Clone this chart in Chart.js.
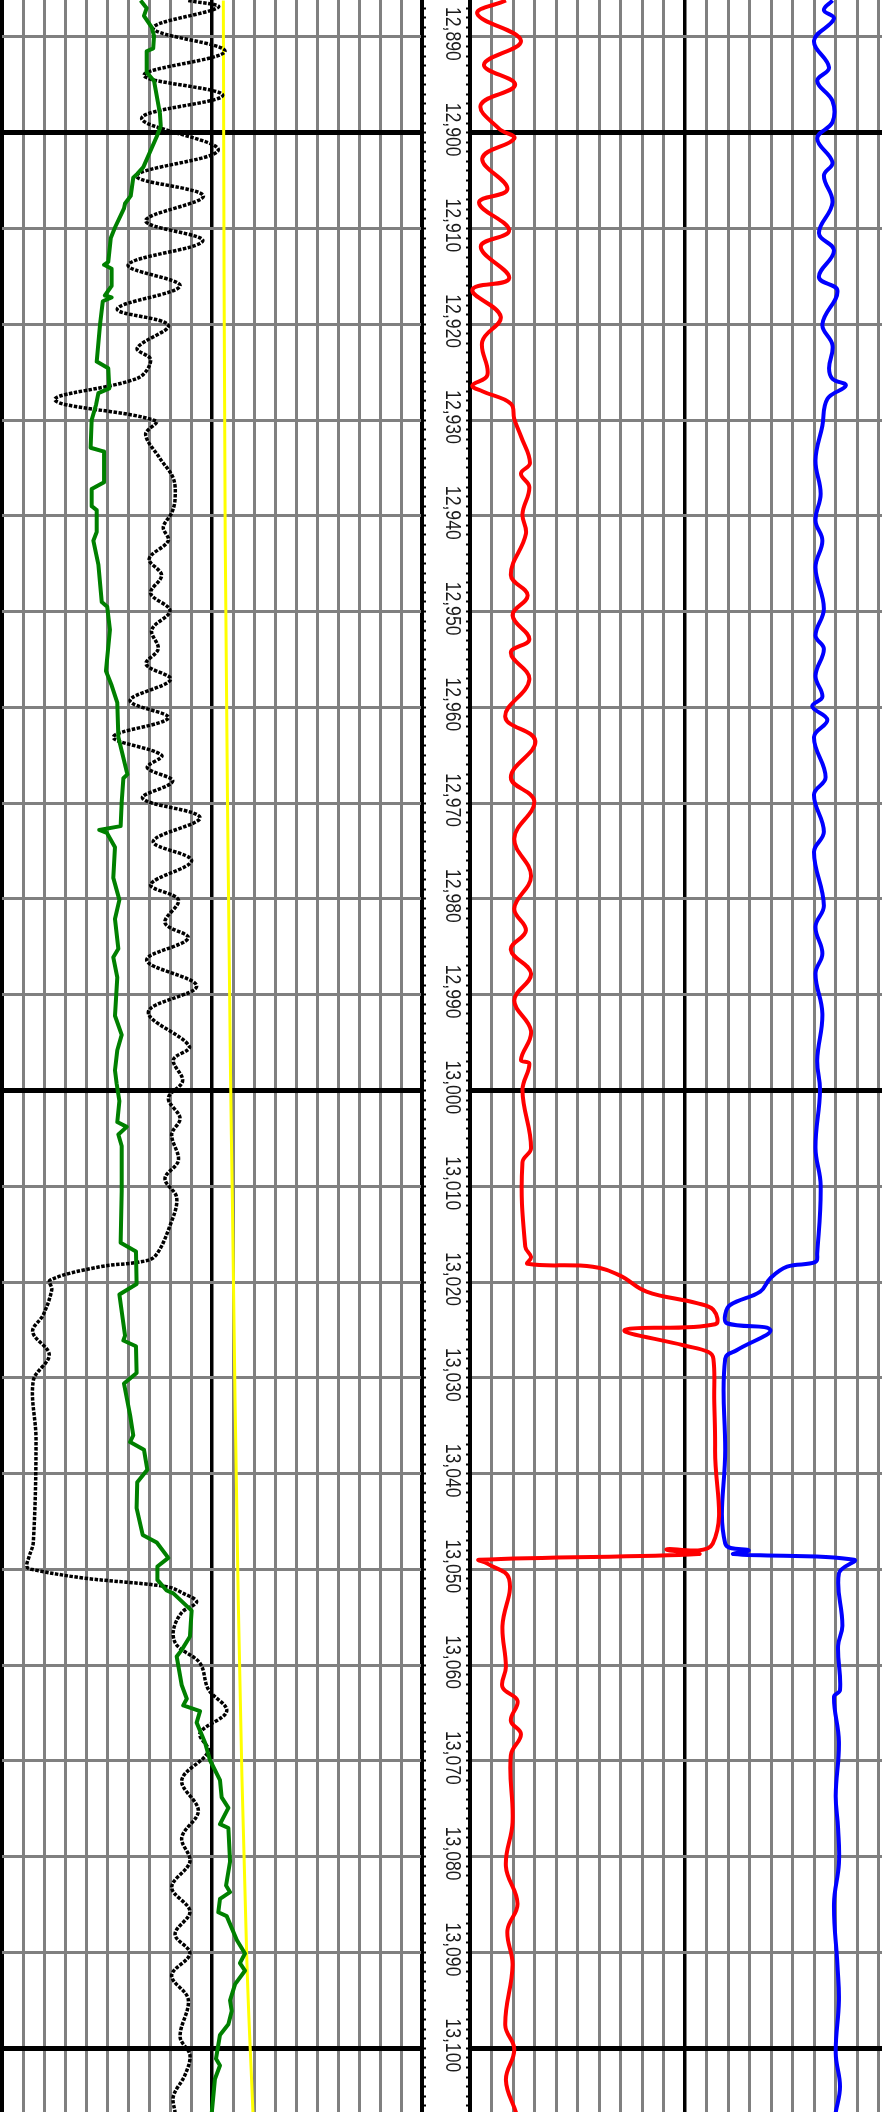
<!DOCTYPE html>
<html>
<head>
<meta charset="utf-8">
<title>Log tracks</title>
<script src="https://cdn.jsdelivr.net/npm/chart.js@4.4.1/dist/chart.umd.min.js"></script>
<style>
  html, body { margin: 0; padding: 0; background: #fff; overflow: hidden; }
  #wrap { position: relative; width: 882px; height: 2112px; overflow: hidden; background: #fff; }
  canvas { position: absolute; top: 0; }
  #leftTrack { left: 0; }
  #rightTrack { left: 466px; }
</style>
</head>
<body>
<div id="wrap">
  <canvas id="leftTrack" width="470" height="2112"></canvas>
  <canvas id="rightTrack" width="434" height="2112"></canvas>
</div>
<script>

// depth window (ft) and the labelled depths
var topDepth = 12886.15;
var bottomDepth = 13106.65;
var depthLabels = [12890, 12900, 12910, 12920, 12930, 12940, 12950, 12960, 12970, 12980, 12990,
    13000, 13010, 13020, 13030, 13040, 13050, 13060, 13070, 13080, 13090, 13100];

// left track, scale 0-200 : [depth, value]
var spLog = [[12886.2,66.0],[12887.0,68.9],[12887.8,67.6],[12889.0,71.3],[12889.9,72.4],[12891.2,72.0],[12891.5,68.9],[12893.7,68.9],[12894.6,72.4],[12898.0,75.2],[12899.3,75.6],[12900.4,73.7],[12901.6,71.3],[12903.6,67.3],[12904.3,64.4],[12904.7,62.5],[12906.6,61.3],[12907.4,58.6],[12907.9,58.1],[12909.9,53.8],[12911.0,51.8],[12913.5,50.6],[12913.8,48.6],[12914.2,52.2],[12916.0,52.2],[12917.0,49.0],[12917.2,52.2],[12917.6,48.0],[12920.0,46.7],[12923.9,45.1],[12924.6,50.6],[12926.7,51.1],[12927.2,45.9],[12928.4,44.8],[12930.0,42.7],[12932.9,42.2],[12933.3,48.6],[12936.5,48.6],[12937.2,42.7],[12939.0,42.7],[12939.4,45.1],[12941.7,45.1],[12942.6,43.5],[12945.1,45.9],[12949.0,47.5],[12949.5,50.1],[12951.9,51.4],[12956.2,49.5],[12957.7,52.2],[12959.5,54.9],[12963.1,55.4],[12967.0,59.7],[12967.4,57.8],[12969.9,57.0],[12972.4,56.5],[12972.8,46.3],[12973.1,49.9],[12974.6,53.8],[12977.8,53.0],[12980.1,55.9],[12982.1,53.8],[12985.2,55.4],[12986.1,53.0],[12988.2,54.9],[12992.2,53.8],[12994.2,57.0],[12995.8,54.9],[12997.9,53.8],[12999.3,54.6],[13001.1,55.9],[13003.3,54.9],[13003.8,59.4],[13004.6,55.4],[13005.8,57.0],[13010.5,57.0],[13015.9,56.5],[13016.8,63.8],[13020.2,64.1],[13021.3,55.9],[13025.6,58.6],[13026.1,57.8],[13026.7,63.8],[13029.5,64.1],[13030.6,58.1],[13033.9,61.0],[13036.0,62.5],[13036.7,61.0],[13037.5,67.6],[13039.6,69.2],[13040.9,64.4],[13043.6,64.1],[13046.4,67.0],[13047.2,73.7],[13048.8,79.2],[13049.7,74.0],[13051.1,74.0],[13052.2,78.4],[13052.5,81.6],[13054.3,90.3],[13057.0,89.5],[13058.4,85.6],[13059.1,83.2],[13062.1,85.6],[13063.5,88.0],[13064.2,86.3],[13064.8,94.3],[13066.0,92.7],[13068.1,96.7],[13069.9,99.0],[13072.0,103.8],[13073.8,104.6],[13074.9,107.8],[13076.6,103.8],[13077.0,107.8],[13080.5,108.6],[13083.0,106.7],[13083.7,108.6],[13084.4,103.8],[13085.8,103.0],[13086.2,107.0],[13088.7,111.8],[13090.1,115.7],[13091.1,113.3],[13091.9,115.7],[13093.3,111.0],[13095.0,108.6],[13096.1,109.4],[13097.5,107.8],[13098.6,103.8],[13101.1,101.9],[13101.8,103.8],[13103.2,101.4],[13106.7,99.9]];

var grLog = [[12886.2,88.7],[12886.9,103.0],[12889.1,72.0],[12891.5,106.2],[12894.0,67.6],[12896.1,105.1],[12898.5,66.5],[12901.8,103.0],[12904.5,64.1],[12906.6,95.9],[12909.2,68.4],[12911.3,95.6],[12913.8,60.1],[12916.0,84.8],[12918.4,54.9],[12920.1,79.2],[12922.5,64.4],[12923.7,70.8],[12925.6,64.9],[12927.9,25.2],[12930.1,73.3],[12931.5,68.4],[12934.0,75.2],[12936.1,81.6],[12938.3,82.4],[12939.7,80.8],[12941.2,76.8],[12942.6,79.2],[12944.5,70.1],[12946.2,76.0],[12948.1,70.8],[12949.9,80.0],[12951.9,71.3],[12953.9,74.4],[12955.5,68.6],[12957.1,80.3],[12959.3,61.0],[12961.1,79.2],[12963.1,53.0],[12965.0,76.0],[12966.3,69.2],[12967.7,81.3],[12969.5,67.0],[12971.5,94.3],[12974.0,72.0],[12976.0,90.3],[12978.5,70.8],[12980.1,84.0],[12982.5,77.6],[12984.1,88.7],[12986.4,68.9],[12989.1,92.7],[12991.8,69.7],[12995.4,89.2],[12996.8,81.6],[12999.0,86.0],[13000.8,79.2],[13002.9,84.8],[13004.6,80.8],[13007.3,84.0],[13009.2,77.6],[13011.2,83.2],[13014.1,80.0],[13017.3,72.9],[13017.9,65.7],[13018.4,46.7],[13019.8,22.9],[13020.8,23.7],[13023.4,19.7],[13025.2,14.6],[13027.6,22.5],[13030.3,14.9],[13036.4,16.2],[13047.2,14.9],[13048.6,13.0],[13049.7,11.8],[13050.0,14.1],[13050.9,38.7],[13051.8,78.4],[13052.5,86.3],[13053.4,92.7],[13054.5,85.6],[13056.4,81.6],[13057.9,83.2],[13059.8,94.3],[13062.5,98.2],[13064.8,107.0],[13067.1,94.3],[13069.0,98.2],[13072.0,85.6],[13075.2,93.5],[13078.0,85.6],[13080.5,89.5],[13083.2,80.8],[13085.7,89.5],[13088.1,82.4],[13090.1,89.5],[13092.4,80.8],[13094.9,88.7],[13098.8,84.8],[13100.7,89.5],[13102.8,87.1],[13105.0,81.6],[13106.7,82.4]];

var bsLog = [[12886.2,105.4],[12942.5,106.3],[12997.9,108.8],[13011.4,109.7],[13053.2,112.5],[13090.1,116.5],[13106.7,119.5]];

// right track, scale 0-200 : [depth, value]
var denLog = [[12886.2,16.7],[12887.6,3.4],[12890.4,23.7],[12892.9,6.5],[12895.0,21.0],[12897.1,5.0],[12899.6,13.6],[12900.6,20.6],[12902.7,5.7],[12905.9,17.4],[12907.3,4.2],[12910.2,18.2],[12911.9,5.0],[12915.2,18.2],[12916.4,1.1],[12919.2,14.3],[12921.8,5.7],[12925.3,8.1],[12926.4,1.1],[12927.0,5.7],[12928.3,19.0],[12929.9,20.6],[12931.7,23.7],[12934.5,27.9],[12935.6,23.7],[12937.0,27.6],[12939.8,24.4],[12941.9,26.0],[12946.2,19.0],[12948.3,26.8],[12950.4,19.8],[12952.9,27.6],[12954.3,19.0],[12957.1,27.6],[12961.0,16.4],[12963.5,30.4],[12967.3,19.0],[12969.8,29.9],[12973.7,20.6],[12977.6,28.4],[12981.0,20.6],[12983.3,26.0],[12985.3,19.0],[12987.8,28.4],[12990.6,20.6],[12993.8,28.4],[12996.8,23.7],[12997.2,27.6],[13000.0,24.4],[13006.0,28.4],[13007.5,24.4],[13016.3,25.7],[13017.4,28.4],[13018.1,26.8],[13018.4,57.1],[13019.3,69.6],[13021.0,82.1],[13022.2,105.5],[13022.9,113.2],[13024.4,114.0],[13025.0,72.0],[13026.6,99.2],[13027.3,110.9],[13028.0,113.2],[13032.3,113.6],[13037.5,114.0],[13047.3,112.9],[13047.9,91.4],[13048.4,106.2],[13049.0,4.2],[13049.4,8.1],[13051.0,18.2],[13055.9,15.1],[13060.2,16.7],[13062.3,15.1],[13063.7,22.1],[13065.8,19.0],[13067.2,23.7],[13069.4,19.0],[13076.4,19.8],[13081.0,16.7],[13084.9,22.1],[13087.7,17.4],[13091.3,19.8],[13097.6,16.4],[13100.1,20.6],[13103.3,16.7],[13106.7,21.4]];

var neuLog = [[12886.2,168.6],[12887.2,164.6],[12888.1,169.3],[12890.4,160.0],[12893.2,167.0],[12894.6,161.5],[12896.7,168.6],[12898.9,168.6],[12900.6,161.5],[12903.1,168.6],[12904.5,164.6],[12907.3,168.6],[12910.5,162.3],[12912.3,169.3],[12915.1,162.3],[12916.5,170.9],[12920.0,163.9],[12922.2,168.6],[12924.6,167.0],[12925.7,168.6],[12926.4,174.8],[12927.8,166.2],[12930.6,163.9],[12934.2,160.7],[12937.7,163.1],[12940.5,160.7],[12942.6,163.9],[12945.4,160.7],[12949.7,164.6],[12952.5,160.7],[12953.9,164.6],[12956.7,160.7],[12958.9,163.9],[12959.9,159.2],[12961.3,166.2],[12963.1,160.0],[12967.3,165.4],[12969.1,160.0],[12973.0,164.6],[12975.1,160.0],[12980.7,164.6],[12982.9,160.7],[12985.7,163.9],[12987.8,160.7],[12992.0,163.9],[12996.8,161.5],[13000.0,162.8],[13006.0,160.7],[13009.9,163.1],[13017.0,161.5],[13017.9,160.7],[13018.4,147.5],[13019.6,139.7],[13021.0,135.0],[13022.4,121.0],[13023.4,118.7],[13024.3,119.5],[13025.0,139.7],[13027.1,124.2],[13028.0,118.7],[13037.5,118.7],[13047.3,118.7],[13048.0,129.6],[13048.4,122.6],[13049.0,178.6],[13050.4,171.6],[13055.9,173.2],[13058.0,171.2],[13062.6,172.1],[13063.3,169.3],[13068.0,171.6],[13073.6,170.1],[13077.0,171.2],[13080.7,171.6],[13084.9,169.3],[13091.3,170.9],[13095.0,171.6],[13100.5,170.1],[13104.0,172.1],[13106.7,170.1]];

var GRAY = '#808080';

function toPoints(log) {
    return log.map(p => ({ x: p[1], y: p[0] }));
}

function isHundred(v) {
    return Math.abs(v % 100) < 0.001;
}

function valueAxis() {
    return {
        type: 'linear',
        position: 'bottom',
        min: 0,
        max: 200,
        ticks: { display: false, stepSize: 10, includeBounds: false },
        grid: {
            drawTicks: false,
            color: c => isHundred(c.tick.value) ? '#000' : GRAY,
            lineWidth: c => c.tick.value === 100 ? 3.5 : (isHundred(c.tick.value) ? 4 : 3)
        },
        border: { display: false }
    };
}

function depthGridAxis(position) {
    return {
        type: 'linear',
        position: position,
        reverse: true,
        min: topDepth,
        max: bottomDepth,
        ticks: { display: false, stepSize: 10, includeBounds: false },
        grid: {
            drawTicks: false,
            color: c => isHundred(c.tick.value) ? '#000' : GRAY,
            lineWidth: c => isHundred(c.tick.value) ? 5 : 3
        },
        border: { display: false }
    };
}

function depthTickAxis(position) {
    return {
        type: 'linear',
        position: position,
        reverse: true,
        min: topDepth,
        max: bottomDepth,
        ticks: { display: false, stepSize: 1, includeBounds: false },
        grid: { drawOnChartArea: false, drawTicks: true, tickLength: 4, tickColor: '#000', tickWidth: 2 },
        border: { display: true, color: '#000', width: 3 }
    };
}

function curve(log, color, width, dash, tension) {
    return {
        data: toPoints(log),
        showLine: true,
        borderColor: color,
        borderWidth: width,
        borderDash: dash,
        borderJoinStyle: dash.length ? 'miter' : 'round',
        pointRadius: 0,
        tension: tension,
        fill: false
    };
}

var depthLabelPlugin = {
    id: 'depthLabels',
    afterDraw: function (chart) {
        var ctx = chart.ctx;
        var scale = chart.scales.y;
        var cx = chart.chartArea.right + 30;
        ctx.save();
        ctx.fillStyle = '#1a1a1a';
        ctx.font = '22px "Liberation Sans", Arial, sans-serif';
        ctx.textAlign = 'center';
        ctx.textBaseline = 'middle';
        depthLabels.forEach(function (d) {
            ctx.save();
            ctx.translate(cx, scale.getPixelForValue(d) - 3);
            ctx.rotate(Math.PI / 2);
            ctx.scale(0.8, 1);
            ctx.fillText(d.toLocaleString('en-US'), 0, 0);
            ctx.restore();
        });
        ctx.restore();
    }
};

function baseOptions(padding, scales) {
    return {
        responsive: false,
        animation: false,
        devicePixelRatio: 1,
        events: [],
        layout: { padding: padding },
        plugins: { legend: { display: false }, tooltip: { enabled: false } },
        scales: scales
    };
}

function createLeftTrack() {
    return new Chart(document.getElementById('leftTrack'), {
        type: 'scatter',
        data: {
            datasets: [
                curve(spLog, '#008000', 4, [], 0),
                curve(grLog, '#000000', 3.5, [3.5, 1.5], 0.35),
                curve(bsLog, '#ffff00', 3, [], 0.4)
            ]
        },
        options: baseOptions({ left: 2, right: 44, top: 0, bottom: 0 }, {
            x: valueAxis(),
            y: depthGridAxis('left'),
            yt: depthTickAxis('right')
        }),
        plugins: [depthLabelPlugin]
    });
}

function createRightTrack() {
    return new Chart(document.getElementById('rightTrack'), {
        type: 'scatter',
        data: {
            datasets: [
                curve(denLog, '#ff0000', 4, [], 0.4),
                curve(neuLog, '#0000ff', 4, [], 0.4)
            ]
        },
        options: baseOptions({ left: 0, right: 0, top: 0, bottom: 0 }, {
            x: valueAxis(),
            y: depthGridAxis('left'),
            yt: depthTickAxis('left')
        })
    });
}

(function () {
    createLeftTrack();
    createRightTrack();
})();

</script>
</body>
</html>
